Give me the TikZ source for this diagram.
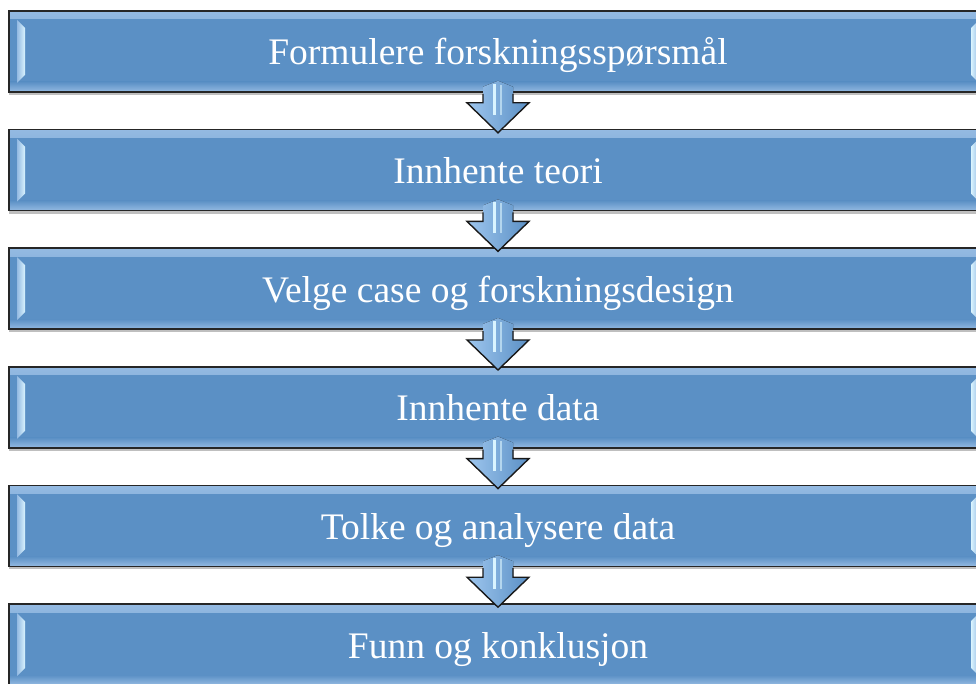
\documentclass[tikz,border=0pt]{standalone}
\usepackage{fontspec}
\setmainfont{Liberation Serif}
\usetikzlibrary{positioning,calc,shadows}

\definecolor{boxblue}{RGB}{91,144,197}
\definecolor{boxlight}{RGB}{148,186,226}
\definecolor{bevellight}{RGB}{218,244,255}
\definecolor{arrowlight}{RGB}{158,198,238}

\tikzset{
  stepbox/.style={draw=black!85, line width=1.6pt, fill=boxblue, text=white,
    minimum width=978pt, minimum height=81pt, inner sep=0pt,
    text height=30pt, text depth=3pt,
    font=\fontsize{37.5}{40}\selectfont,
    drop shadow={shadow xshift=0pt, shadow yshift=-3pt, opacity=0.25, fill=black},
    path picture={
      \fill[top color=boxlight, bottom color=boxblue]
        (path picture bounding box.north west) rectangle
        ([yshift=-8pt]path picture bounding box.north east);
      \fill[top color=boxblue, bottom color=boxlight]
        ([yshift=10pt]path picture bounding box.south west) rectangle
        (path picture bounding box.south east);
      \fill[left color=boxlight, right color=bevellight]
        ([xshift=8pt,yshift=-9pt]path picture bounding box.north west) -- ++(8pt,-8pt)
        -- ([xshift=16pt,yshift=17pt]path picture bounding box.south west)
        -- ([xshift=8pt,yshift=9pt]path picture bounding box.south west) -- cycle;
      \fill[right color=boxlight, left color=bevellight]
        ([xshift=-8pt,yshift=-9pt]path picture bounding box.north east) -- ++(-8pt,-8pt)
        -- ([xshift=-16pt,yshift=17pt]path picture bounding box.south east)
        -- ([xshift=-8pt,yshift=9pt]path picture bounding box.south east) -- cycle;
    }},
  arrowline/.style={draw=black!90, line width=1.4pt, line join=miter},
  arrowfill/.style={left color=arrowlight, right color=boxblue}
}

\begin{document}
\begin{tikzpicture}[x=1pt, y=-1pt, node distance=36pt]
      \path[use as bounding box, clip] (0,0) rectangle (976,684);

      \node[stepbox] (b1) at (498,51.5) {Formulere forskningsspørsmål};
      \node[stepbox, below=of b1] (b2) {Innhente teori};
      \node[stepbox, below=of b2] (b3) {Velge case og forskningsdesign};
      \node[stepbox, below=of b3] (b4) {Innhente data};
      \node[stepbox, below=of b4] (b5) {Tolke og analysere data};
      \node[stepbox, below=of b5] (b6) {Funn og konklusjon};

      % block arrows between the steps
      \foreach \a/\b in {b1/b2,b2/b3,b3/b4,b4/b5,b5/b6}{
        \fill[arrowfill]
          ($(\a.south)+(-15,-6)$) -- ($(\a.south)+(0,-12)$) -- ($(\a.south)+(15,-6)$)
          -- ($(\a.south)+(15,10)$) -- ($(\a.south)+(31,10)$) -- ($(\b.north)+(0,4)$)
          -- ($(\a.south)+(-31,10)$) -- ($(\a.south)+(-15,10)$) -- cycle;
        \fill[bevellight] ($(\a.south)+(-5,-9)$) rectangle ($(\a.south)+(-2,22)$);
        \fill[bevellight!70!boxblue] ($(\a.south)+(2,-8)$) rectangle ($(\a.south)+(4,22)$);
        \draw[arrowline]
          ($(\a.south)+(-15,1)$) -- ($(\a.south)+(-15,10)$) -- ($(\a.south)+(-31,10)$)
          -- ($(\b.north)+(0,4)$) -- ($(\a.south)+(31,10)$) -- ($(\a.south)+(15,10)$)
          -- ($(\a.south)+(15,1)$);
      }
    \end{tikzpicture}
\end{document}
